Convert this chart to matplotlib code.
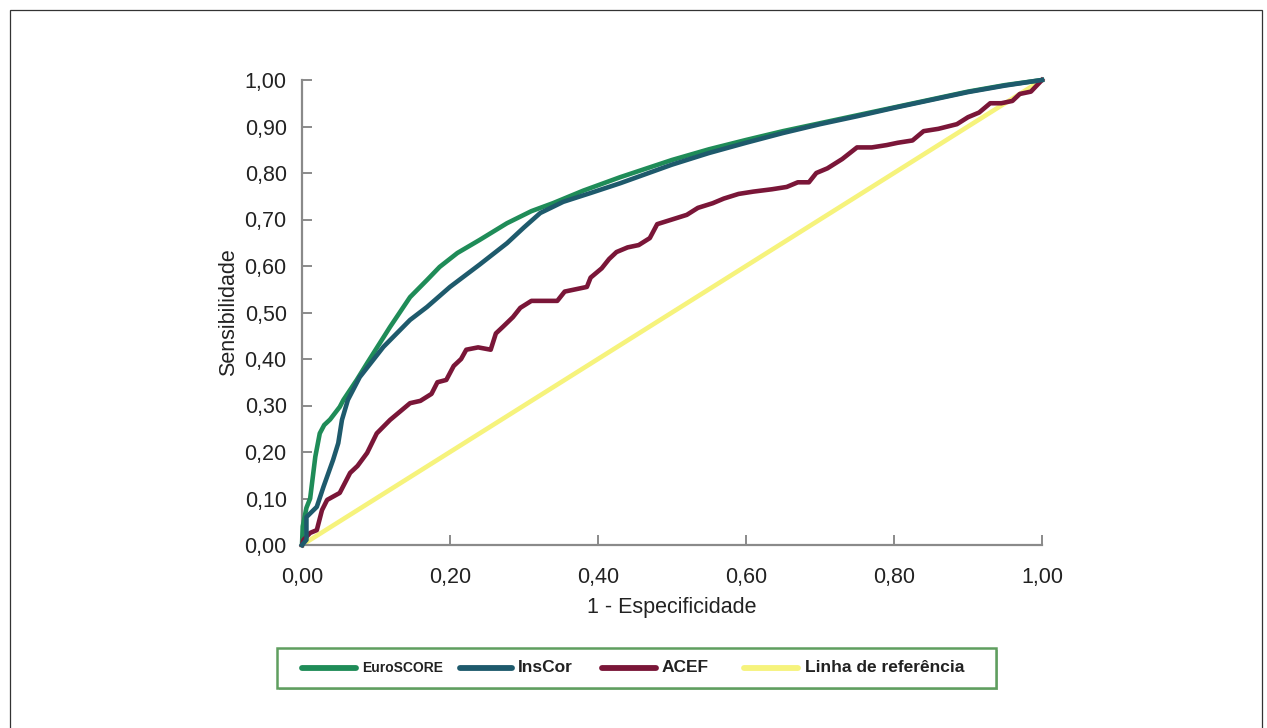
import matplotlib
matplotlib.use("Agg")
import matplotlib.pyplot as plt
from matplotlib.patches import Rectangle
from matplotlib.lines import Line2D

plt.rcParams['font.family'] = ['Liberation Sans', 'DejaVu Sans']

# --- data ---
euro_x = [0.0, 0.001, 0.006, 0.011, 0.018, 0.024, 0.03, 0.038, 0.051, 0.056, 0.074, 0.088, 0.119,
          0.146, 0.169, 0.186, 0.21, 0.24, 0.277, 0.31, 0.339, 0.38, 0.43, 0.5,
          0.55, 0.6, 0.65, 0.7, 0.75, 0.8, 0.85, 0.9, 0.95, 1.0]
euro_y = [0.0, 0.04, 0.08, 0.10, 0.19, 0.24, 0.258, 0.27, 0.297, 0.312, 0.355, 0.391, 0.469,
          0.533, 0.57, 0.598, 0.628, 0.656, 0.692, 0.718, 0.735, 0.762, 0.791, 0.828,
          0.851, 0.871, 0.890, 0.907, 0.924, 0.941, 0.958, 0.975, 0.989, 1.0]

ins_x = [0.0, 0.006, 0.006, 0.02, 0.029, 0.042, 0.049, 0.054, 0.062, 0.078, 0.11, 0.146, 0.169,
         0.2, 0.24, 0.277, 0.3, 0.322, 0.353, 0.39, 0.43, 0.5, 0.55, 0.6,
         0.65, 0.7, 0.75, 0.8, 0.85, 0.9, 0.95, 1.0]
ins_y = [0.0, 0.011, 0.06, 0.082, 0.125, 0.183, 0.219, 0.269, 0.312, 0.361, 0.426, 0.484, 0.512,
         0.555, 0.603, 0.649, 0.683, 0.714, 0.738, 0.757, 0.778, 0.818, 0.843, 0.865,
         0.886, 0.905, 0.922, 0.940, 0.957, 0.974, 0.988, 1.0]

acef_x = [0.0, 0.002, 0.011, 0.02, 0.027, 0.034, 0.051, 0.065, 0.075, 0.088, 0.101, 0.119, 0.146,
          0.16, 0.175, 0.183, 0.195, 0.205, 0.215,
          0.222, 0.238, 0.255, 0.262, 0.272, 0.285, 0.295, 0.31, 0.33, 0.345, 0.355, 0.37, 0.385,
          0.39, 0.405, 0.415, 0.425, 0.44, 0.455, 0.47, 0.48, 0.5, 0.52, 0.535, 0.555, 0.57, 0.59,
          0.61, 0.635, 0.655, 0.67, 0.685, 0.695, 0.71, 0.73, 0.75, 0.77, 0.79, 0.805, 0.825, 0.84,
          0.86, 0.885, 0.9, 0.915, 0.93, 0.945, 0.96, 0.97, 0.985, 1.0]
acef_y = [0.0, 0.011, 0.026, 0.032, 0.075, 0.097, 0.112, 0.155, 0.17, 0.198, 0.24, 0.269, 0.305,
          0.31, 0.325, 0.35, 0.355, 0.385, 0.40,
          0.42, 0.425, 0.42, 0.455, 0.47, 0.49, 0.51, 0.525, 0.525, 0.525, 0.545, 0.55, 0.555,
          0.575, 0.595, 0.615, 0.63, 0.64, 0.645, 0.66, 0.69, 0.70, 0.71, 0.725, 0.735, 0.745, 0.755,
          0.76, 0.765, 0.77, 0.78, 0.78, 0.80, 0.81, 0.83, 0.855, 0.855, 0.86, 0.865, 0.87, 0.89,
          0.895, 0.905, 0.92, 0.93, 0.95, 0.95, 0.955, 0.97, 0.975, 1.0]

ref_x = [0.0, 1.0]
ref_y = [0.0, 1.0]

labels = ["EuroSCORE", "InsCor", "ACEF", "Linha de referência"]
colors = ["#1f8c58", "#1e5a6c", "#7a1638", "#f6f37c"]

xticks = [0.0, 0.2, 0.4, 0.6, 0.8, 1.0]
yticks = [0.0, 0.1, 0.2, 0.3, 0.4, 0.5, 0.6, 0.7, 0.8, 0.9, 1.0]

W, H = 1267, 728
fig = plt.figure(figsize=(W / 100, H / 100), dpi=100)
fig.patch.set_facecolor("white")


def px(x, y):
    """pixel (from top-left) -> figure fraction"""
    return x / W, (H - y) / H


# outer frame
fig.add_artist(Rectangle((10 / W, -0.05), (1262 - 10) / W, (H - 10) / H + 0.05,
                         transform=fig.transFigure, fill=False, edgecolor="#333333", lw=0.9))

ax = fig.add_axes([302 / W, (H - 545) / H, (1042 - 302) / W, (545 - 80) / H])

lw = 3.3
ax.plot(ref_x, ref_y, color=colors[3], lw=lw, clip_on=False, zorder=2, solid_capstyle='butt')
ax.plot(euro_x, euro_y, color=colors[0], lw=lw, clip_on=False, zorder=3, solid_joinstyle='round')
ax.plot(ins_x, ins_y, color=colors[1], lw=lw, clip_on=False, zorder=4, solid_joinstyle='round')
ax.plot(acef_x, acef_y, color=colors[2], lw=lw, clip_on=False, zorder=3, solid_joinstyle='round')

ax.set_xlim(0, 1)
ax.set_ylim(0, 1)
for s in ["top", "right"]:
    ax.spines[s].set_visible(False)
for s in ["left", "bottom"]:
    ax.spines[s].set_color("#8a8a8a")
    ax.spines[s].set_linewidth(1.6)

ax.set_xticks(xticks)
ax.set_yticks(yticks)
ax.set_xticklabels([f"{v:.2f}".replace(".", ",") for v in xticks])
ax.set_yticklabels([f"{v:.2f}".replace(".", ",") for v in yticks])
ax.tick_params(direction="in", length=7, width=1.4, color="#8a8a8a",
               labelsize=15.5, labelcolor="#222222")
ax.tick_params(axis="x", pad=16)
ax.tick_params(axis="y", pad=11)
ax.set_xlabel("1 - Especificidade", fontsize=15.5, color="#222222", labelpad=6)
ax.set_ylabel("Sensibilidade", fontsize=15.5, color="#222222", labelpad=4)

# legend box (drawn manually to match the reference spacing)
x0, y0 = px(277, 688)
x1, y1 = px(996, 648)
fig.add_artist(Rectangle((x0 + 2 / W, y0 - 2 / H), x1 - x0, y1 - y0, transform=fig.transFigure,
                         facecolor="#a8c8a8", edgecolor="none", zorder=1))
fig.add_artist(Rectangle((x0, y0), x1 - x0, y1 - y0, transform=fig.transFigure,
                         facecolor="white", edgecolor="#5f9e5f", lw=1.8, zorder=2))
handle_px = [(302, 356), (460, 512), (602, 656), (744, 798)]
text_px = [362, 518, 662, 805]
sizes = [10, 12.5, 12.5, 12.5]
yc = 668
for (hx0, hx1), tx, lab, col, fs in zip(handle_px, text_px, labels, colors, sizes):
    a, b = px(hx0, yc)
    c, _ = px(hx1, yc)
    fig.add_artist(Line2D([a, c], [b, b], transform=fig.transFigure, color=col, lw=4.2,
                          solid_capstyle='round', zorder=3))
    tx_, ty_ = px(tx, yc)
    fig.text(tx_, ty_, lab, fontsize=fs, fontweight="bold", color="#222222",
             ha="left", va="center", zorder=3)

fig.savefig("out.png", dpi=100, facecolor="white")
